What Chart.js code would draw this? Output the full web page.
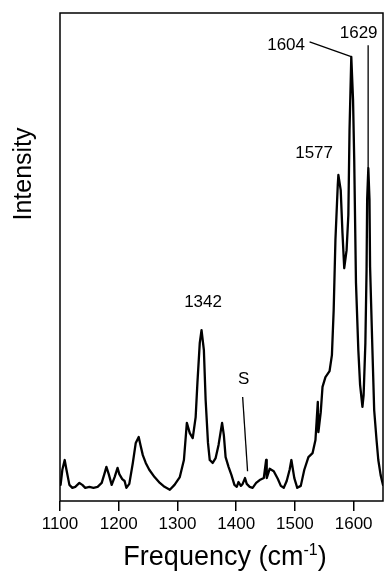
<!DOCTYPE html>
<html>
<head>
<meta charset="utf-8">
<script src="https://cdn.jsdelivr.net/npm/chart.js@4.4.1/dist/chart.umd.min.js"></script>
<style>
  html, body { margin: 0; padding: 0; background: #fff; }
  #wrap { width: 387px; height: 573px; }
</style>
</head>
<body>
<div id="wrap"><canvas id="spectrum" width="387" height="573"></canvas></div>
<script>
// Raman spectrum
const frequency = [
  1101, 1104, 1108, 1111, 1116, 1121, 1126, 1133, 1138, 1143, 1150, 1157, 1164, 1171, 1176, 1179,
  1183, 1188, 1193, 1198, 1201, 1206, 1210, 1213, 1218, 1224, 1229, 1234, 1237, 1241, 1246, 1252,
  1261, 1270, 1278, 1287, 1295, 1304, 1311, 1316, 1321, 1326, 1331, 1334, 1338, 1341, 1345, 1348,
  1352, 1355, 1360, 1365, 1370, 1376, 1379, 1382, 1387, 1392, 1397, 1401, 1404, 1408, 1411, 1415,
  1418, 1423, 1428, 1434, 1440, 1447, 1451, 1452, 1457, 1464, 1471, 1476, 1481, 1486, 1491, 1494,
  1499, 1504, 1510, 1516, 1523, 1530, 1535, 1539, 1540, 1544, 1547, 1552, 1559, 1563, 1566, 1569,
  1573, 1574, 1578, 1581, 1584, 1588, 1591, 1593, 1596, 1599, 1601, 1604, 1608, 1611, 1615, 1617,
  1620, 1622, 1623, 1625, 1627, 1628, 1632, 1635, 1639, 1642, 1646, 1650
];
const intensity = [
  3.3, 6.4, 8.4, 6.4, 3.3, 2.7, 2.9, 3.7, 3.3, 2.7, 2.9, 2.7, 2.9, 3.7, 5.7, 7.0,
  5.5, 3.3, 4.9, 6.8, 5.5, 4.5, 4.1, 2.7, 3.5, 7.8, 11.9, 13.1, 11.5, 9.4, 7.8, 6.4,
  4.9, 3.7, 2.9, 2.3, 3.3, 4.9, 8.4, 16.0, 13.9, 12.9, 17.2, 24.2, 32.4, 35.0, 30.9, 20.7,
  11.9, 8.4, 7.8, 8.8, 11.5, 16.0, 13.5, 9.0, 7.0, 5.3, 3.3, 2.9, 3.9, 3.1, 3.5, 4.7,
  3.5, 2.9, 2.7, 3.7, 4.3, 4.7, 8.4, 4.7, 6.6, 6.1, 4.5, 3.1, 2.7, 4.1, 6.4, 8.4,
  4.7, 2.7, 3.1, 6.4, 9.0, 9.8, 12.5, 20.3, 14.1, 18.2, 23.4, 25.4, 26.6, 29.9, 39.1, 53.5,
  64.8, 66.8, 63.7, 54.9, 47.7, 51.4, 58.6, 76.0, 91.0, 82.2, 69.9, 44.7, 30.9, 23.8, 19.3, 21.7,
  32.4, 47.3, 61.7, 68.2, 61.7, 48.0, 30.9, 18.6, 12.5, 8.4, 5.3, 3.3
];
const xTicks = [1100, 1200, 1300, 1400, 1500, 1600];

// peak labels, in data units (text anchor + optional leader line)
const peakLabels = [
  { text: "1342", x: 1343.6, y: 39.8 },
  { text: "S", x: 1412.6, y: 24.0, line: [1411, 21.3, 1419.4, 6.1] },
  { text: "1577", x: 1532.7, y: 70.3 },
  { text: "1604", x: 1485, y: 92.4, line: [1525, 94.1, 1597, 91.0] },
  { text: "1629", x: 1608.5, y: 94.9, line: [1624.7, 93.4, 1624.7, 68.2] },
];

const FONT = "'Liberation Sans', Arial, Helvetica, sans-serif";

const decorations = {
  id: "decorations",
  afterDraw(chart) {
    const { ctx, chartArea: a, scales } = chart;
    const xs = scales.x, ys = scales.y;
    ctx.save();
    // frame
    ctx.strokeStyle = "#000";
    ctx.lineWidth = 1.5;
    ctx.strokeRect(a.left, a.top, a.right - a.left, a.bottom - a.top);

    // peak labels
    ctx.fillStyle = "#000";
    ctx.font = "17px " + FONT;
    ctx.textAlign = "center";
    ctx.textBaseline = "alphabetic";
    ctx.lineWidth = 1.3;
    peakLabels.forEach((p) => {
      ctx.fillText(p.text, xs.getPixelForValue(p.x), ys.getPixelForValue(p.y));
      if (p.line) {
        ctx.beginPath();
        ctx.moveTo(xs.getPixelForValue(p.line[0]), ys.getPixelForValue(p.line[1]));
        ctx.lineTo(xs.getPixelForValue(p.line[2]), ys.getPixelForValue(p.line[3]));
        ctx.stroke();
      }
    });

    // y title
    ctx.save();
    ctx.font = "25px " + FONT;
    ctx.translate(31, 174);
    ctx.rotate(-Math.PI / 2);
    ctx.fillText("Intensity", 0, 0);
    ctx.restore();

    // x title with superscript
    const size = 27, supSize = 16;
    const main = "Frequency (cm", sup = "-1", end = ")";
    ctx.font = size + "px " + FONT;
    const w1 = ctx.measureText(main).width;
    const w3 = ctx.measureText(end).width;
    ctx.font = supSize + "px " + FONT;
    const w2 = ctx.measureText(sup).width;
    let x0 = 225 - (w1 + w2 + w3) / 2;
    const base = 565;
    ctx.textAlign = "left";
    ctx.font = size + "px " + FONT;
    ctx.fillText(main, x0, base);
    ctx.font = supSize + "px " + FONT;
    ctx.fillText(sup, x0 + w1, base - 10);
    ctx.font = size + "px " + FONT;
    ctx.fillText(end, x0 + w1 + w2, base);
    ctx.restore();
  },
};

new Chart(document.getElementById("spectrum"), {
  type: "scatter",
  data: {
    datasets: [
      {
        data: frequency.map((f, i) => ({ x: f, y: intensity[i] })),
        showLine: true,
        borderColor: "#000",
        borderWidth: 2.3,
        borderJoinStyle: "round",
        borderCapStyle: "round",
        pointRadius: 0,
        tension: 0,
      },
    ],
  },
  options: {
    responsive: false,
    devicePixelRatio: 1,
    animation: false,
    layout: { padding: { top: 13, right: 4, left: 0, bottom: 0 } },
    plugins: { legend: { display: false }, tooltip: { enabled: false } },
    scales: {
      x: {
        type: "linear",
        min: 1100,
        max: 1650,
        afterBuildTicks: (s) => { s.ticks = xTicks.map((v) => ({ value: v })); },
        afterFit: (s) => { s.height = 72; },
        border: { display: false },
        grid: { drawOnChartArea: false, drawTicks: true, tickLength: 10, color: "#000", lineWidth: 1.5 },
        ticks: {
          color: "#000",
          padding: 3,
          maxRotation: 0,
          font: { size: 17, family: FONT },
          callback: (v) => String(v),
        },
      },
      y: {
        min: 0,
        max: 100,
        afterFit: (s) => { s.width = 60; },
        border: { display: false },
        grid: { display: false },
        ticks: { display: false },
      },
    },
  },
  plugins: [decorations],
});
</script>
</body>
</html>
